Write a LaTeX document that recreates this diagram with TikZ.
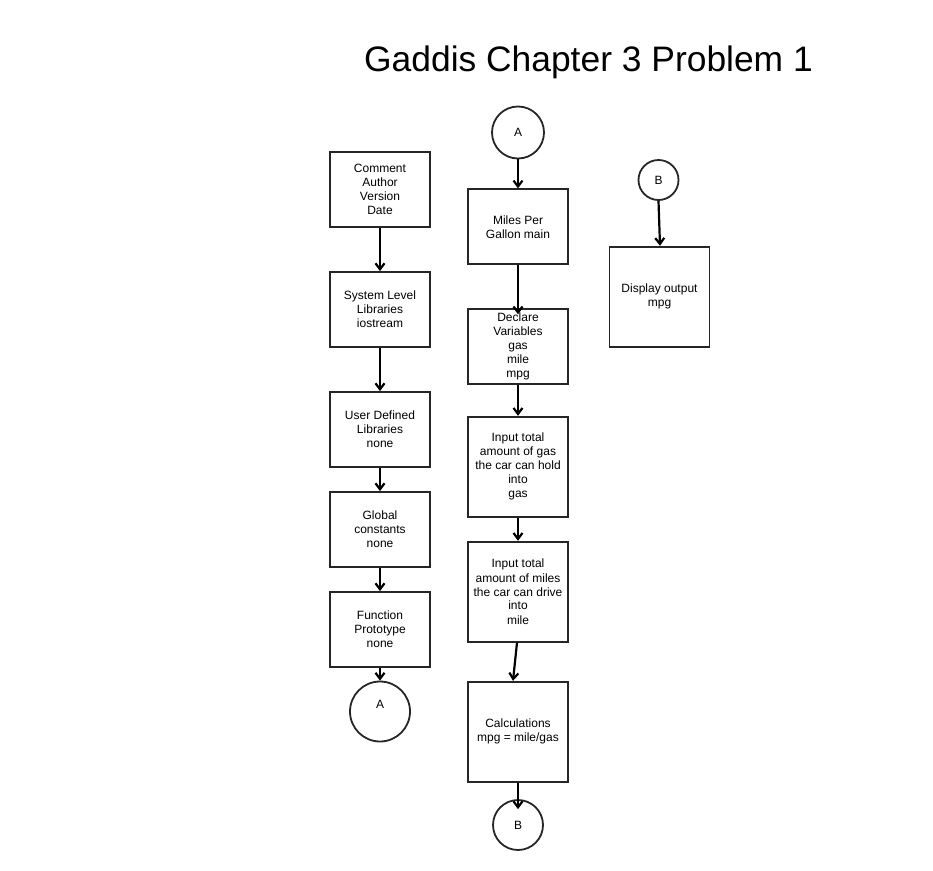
\documentclass[tikz,border=0pt]{standalone}
\usepackage{fontspec}
\setmainfont{Liberation Sans}
\usetikzlibrary{arrows.meta}
\begin{document}
\begin{tikzpicture}[x=1pt,y=-1pt,
  box/.style={draw=black!85,line width=1.8pt,rectangle,minimum width=100pt,minimum height=75pt,inner sep=0pt,align=center,font=\fontsize{12}{14}\selectfont},
  tallbox/.style={box,minimum height=100pt},
  conn/.style={draw=black!85,line width=1.8pt,circle,inner sep=0pt,font=\fontsize{12}{14}\selectfont},
  arr/.style={line width=2.2pt,-{Straight Barb[length=6pt,width=9pt,line width=2.2pt]}}]
\useasboundingbox (0,0) rectangle (933,870);
\node[font=\fontsize{35.4}{40}\selectfont,anchor=base] (title) at (588.5,71) {Gaddis Chapter 3 Problem 1};
% left column
\node[box] (c1) at (380,189.5) {Comment\\Author\\Version\\Date};
\node[box] (c2) at (380,309.5) {System Level\\Libraries\\iostream};
\node[box] (c3) at (380,429.5) {User Defined\\Libraries\\none};
\node[box] (c4) at (380,529.5) {Global\\constants\\none};
\node[box] (c5) at (380,629.5) {Function\\Prototype\\none};
\node[conn,minimum size=60pt] (ca) at (380,711.5) {};
\node[font=\fontsize{12}{14}\selectfont] (calbl) at (380,704) {A};
% middle column
\node[conn,minimum size=52pt] (ma) at (518,132.5) {A};
\node[box] (m1) at (518,226.8) {Miles Per\\Gallon main};
\node[box] (m2) at (518,346.7) {Declare\\Variables\\gas\\mile\\mpg};
\node[tallbox] (m3) at (518,466.7) {Input total\\amount of gas\\the car can hold\\into\\gas};
\node[tallbox] (m4) at (518,591.7) {Input total\\amount of miles\\the car can drive\\into\\mile};
\node[tallbox] (m5) at (518,731.7) {Calculations\\mpg = mile/gas};
\node[conn,minimum size=50pt] (mb) at (518,825) {B};
% right column
\node[conn,minimum size=40pt] (rb) at (658.5,180) {B};
\node[box,minimum height=100pt] (r1) at (659.5,296.7) {Display output\\mpg};
% arrows
\draw[arr] (c1.south) -- (c2.north);
\draw[arr] (c2.south) -- (c3.north);
\draw[arr] (c3.south) -- (c4.north);
\draw[arr] (c4.south) -- (c5.north);
\draw[arr] (c5.south) -- (ca.north);
\draw[arr] (ma.south) -- (m1.north);
\draw[arr] (m1.south) -- ([yshift=-6pt]m2.north);
\draw[arr] (m2.south) -- (m3.north);
\draw[arr] (m3.south) -- (m4.north);
\draw[arr] ([xshift=-1pt]m4.south) -- ([xshift=-5pt]m5.north);
\draw[arr] (m5.south) -- ([yshift=-10pt]mb.north);
\draw[arr] (rb.south) -- ([xshift=0.5pt]r1.north);
\end{tikzpicture}
\end{document}
